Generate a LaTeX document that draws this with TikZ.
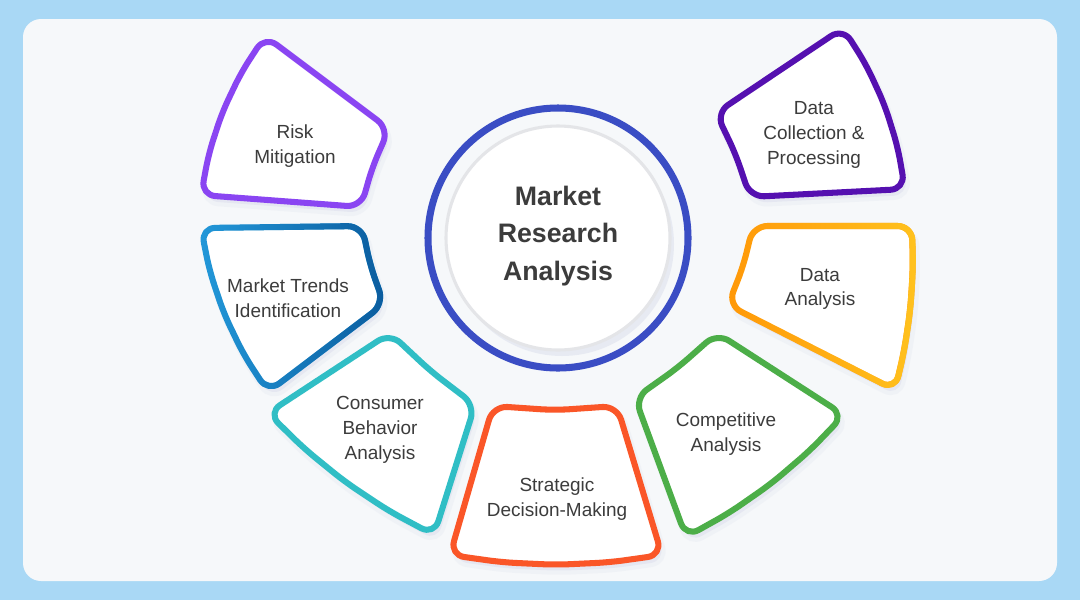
\documentclass[tikz,border=0pt]{standalone}
\usepackage{fontspec}
\setmainfont{Liberation Sans}
\usetikzlibrary{calc,fadings}
\definecolor{bgblue}{HTML}{A9D8F5}
\definecolor{panel}{HTML}{F6F8FA}
\definecolor{shadowc}{HTML}{DADDEB}
\definecolor{txtc}{HTML}{3C3C3C}
\definecolor{riskc}{HTML}{8A45F2}
\definecolor{dcc}{HTML}{5510B0}
\definecolor{mtA}{HTML}{2399DA}
\definecolor{mtB}{HTML}{0B5C9E}
\definecolor{daA}{HTML}{FF9808}
\definecolor{daB}{HTML}{FFC21E}
\definecolor{cbc}{HTML}{30BEC5}
\definecolor{sdc}{HTML}{FA5628}
\definecolor{cac}{HTML}{4CAE48}
\definecolor{ringc}{HTML}{3A4DC4}
\definecolor{innerc}{HTML}{E4E5E8}
\tikzfading[name=fadeR, left color=transparent!100, right color=transparent!0]
% curved outer edge (three interior points, parabolic bulge away from C)
\newcommand\outedge[3]{-- ($(#1)!0.25!(#2)!-0.75*#3!(C)$) -- ($(#1)!0.5!(#2)!-#3!(C)$) -- ($(#1)!0.75!(#2)!-0.75*#3!(C)$)}
% gently curved inner edge (one interior point)
\newcommand\inedge[3]{-- ($(#1)!0.5!(#2)!-#3!(C)$)}
\newcommand\seg[2]{%
  \path[segshadow] #2;
  \draw[segshape,#1] #2;
}
\tikzset{
  segshape/.style={fill=white, line width=4.3pt, rounded corners=0.36cm, line join=round},
  segshadow/.style={fill=shadowc, fill opacity=0.45, draw=shadowc, draw opacity=0.22, line width=6pt, rounded corners=0.36cm, transform canvas={shift={(3,6)}}},
  txt/.style={text=txtc, font=\fontsize{13.5}{17.6}\selectfont, align=center, inner sep=0pt},
  ttl/.style={text=txtc, font=\fontsize{19}{26.5}\selectfont\bfseries, align=center, inner sep=0pt},
  grad/.style 2 args={draw=#1, postaction={draw=#2, line width=4.3pt, rounded corners=0.36cm, path fading=fadeR}}
}
\begin{document}
\begin{tikzpicture}[x=0.025cm,y=-0.025cm]
\useasboundingbox (0,0) rectangle (1080,600);
\fill[bgblue] (0,0) rectangle (1080,600);
\fill[panel, rounded corners=0.45cm] (23,19) rectangle (1057,581);
\coordinate (C) at (558,215);
\coordinate (M) at (558,238);

% Risk Mitigation
\seg{draw=riskc}{(265,36) -- (389,129) \inedge{389,129}{361,207}{2pt} -- (361,207) -- (201,195) \outedge{201,195}{265,36}{8pt} -- cycle}
% Market Trends Identification
\seg{grad={mtA}{mtB}}{(201,228) -- (362,226) \inedge{362,226}{384,304}{2pt} -- (384,304) -- (268,392) \outedge{268,392}{201,228}{8pt} -- cycle}
% Consumer Behavior Analysis
\seg{draw=cbc}{(268,413) -- (390,333) \inedge{390,333}{475,405}{2pt} -- (475,405) -- (434,535) \outedge{434,535}{268,413}{7pt} -- cycle}
% Strategic Decision-Making
\seg{draw=sdc}{(493,406) \inedge{493,406}{617,406}{3pt} -- (617,406) -- (662,555) \outedge{662,555}{450,555}{7pt} -- (450,555) -- cycle}
% Competitive Analysis
\seg{draw=cac}{(635,398) \inedge{635,398}{717,333}{2pt} -- (717,333) -- (844,415) \outedge{844,415}{686,537}{7pt} -- (686,537) -- cycle}
% Data Analysis
\seg{grad={daA}{daB}}{(753,226) -- (912,226) \outedge{912,226}{895,390}{5pt} -- (895,390) -- (728,305) \inedge{728,305}{753,226}{2pt} -- cycle}
% Data Collection & Processing
\seg{draw=dcc}{(716,113) -- (843,28) \outedge{843,28}{905,189}{8pt} -- (905,189) -- (750,197) \inedge{750,197}{716,113}{2pt} -- cycle}

% central circle
\fill[shadowc, opacity=0.5, transform canvas={shift={(4,6)}}] (M) circle (112);
\draw[ringc, line width=5pt] (M) circle (130);
\draw[innerc, line width=2.2pt, fill=white] (M) circle (112);

% texts
\node[ttl] (title) at (558,236) {Market\\Research\\Analysis};
\node[txt] (risk) at (295,146) {Risk\\Mitigation};
\node[txt] (dc) at (814,135) {Data\\Collection \&\\Processing};
\node[txt] (mt) at (288,298) {Market Trends\\Identification};
\node[txt] (da) at (820,289) {Data\\Analysis};
\node[txt] (cb) at (380,430) {Consumer\\Behavior\\Analysis};
\node[txt] (sd) at (557,499) {Strategic\\Decision-Making};
\node[txt] (ca) at (726,434) {Competitive\\Analysis};
\end{tikzpicture}
\end{document}
